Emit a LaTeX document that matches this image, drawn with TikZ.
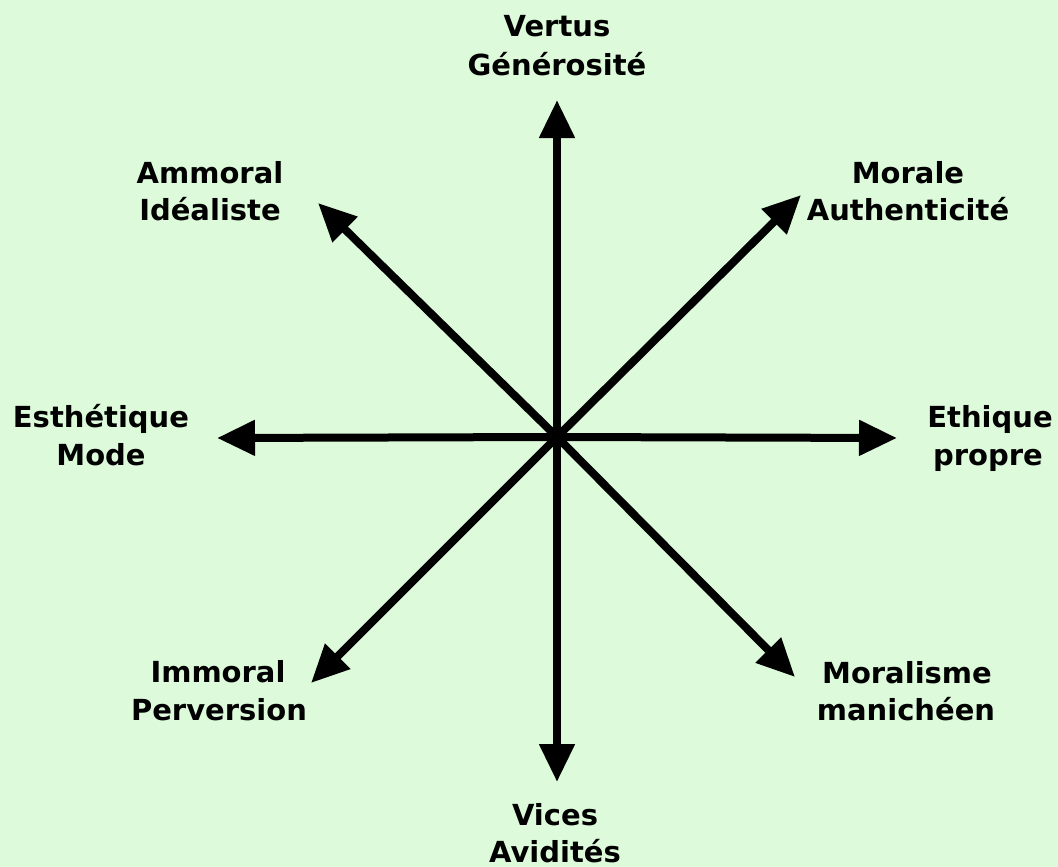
\documentclass[tikz,border=0pt]{standalone}
\usepackage{fontspec}
\setmainfont{DejaVu Sans}
\usetikzlibrary{arrows.meta}
\definecolor{bgcol}{RGB}{221,251,219}
\begin{document}
\begin{tikzpicture}[x=1pt,y=-1pt,
  axis/.style={line width=8pt,-{Triangle[length=38pt,width=34pt]}},
  lbl/.style={anchor=base,inner sep=0pt,font=\fontsize{29}{35}\selectfont\bfseries}]
\fill[bgcol] (0,0) rectangle (1058,867);
\useasboundingbox (0,0) rectangle (1058,867);
\coordinate (c) at (557,437);
\coordinate (tN) at (557,100);
\coordinate (tS) at (557,782);
\coordinate (tW) at (217,438);
\coordinate (tE) at (897,438);
\coordinate (tNW) at (318,203);
\coordinate (tNE) at (801,195);
\coordinate (tSW) at (311,683);
\coordinate (tSE) at (795,677);
\foreach \t in {tN,tS,tW,tE,tNW,tNE,tSW,tSE}
  \draw[axis] (c) -- (\t);
\node[lbl] (n1) at (557,37) {Vertus};
\node[lbl] (n2) at (557,75) {Générosité};
\node[lbl] (nw1) at (210,183) {Ammoral};
\node[lbl] (nw2) at (210,220) {Idéaliste};
\node[lbl] (ne1) at (908,183) {Morale};
\node[lbl] (ne2) at (908,220) {Authenticité};
\node[lbl] (w1) at (101,427) {Esthétique};
\node[lbl] (w2) at (101,465) {Mode};
\node[lbl] (e1) at (990,427) {Ethique};
\node[lbl] (e2) at (988,465) {propre};
\node[lbl] (sw1) at (218,682) {Immoral};
\node[lbl] (sw2) at (219,720) {Perversion};
\node[lbl] (se1) at (907,683) {Moralisme};
\node[lbl] (se2) at (906,720) {manichéen};
\node[lbl] (s1) at (555,825) {Vices};
\node[lbl] (s2) at (555,862) {Avidités};
\end{tikzpicture}
\end{document}
